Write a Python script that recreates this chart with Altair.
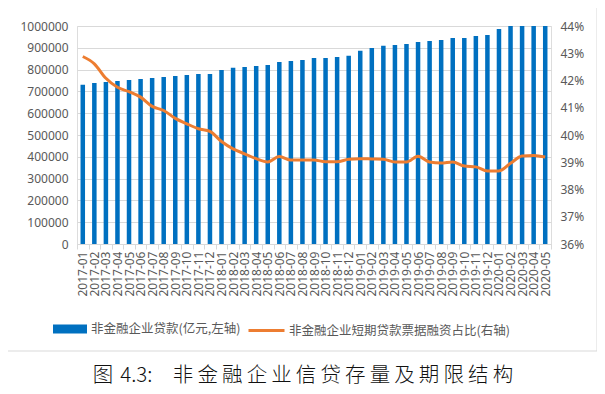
import altair as alt
import pandas as pd

months = [
    "2017-01", "2017-02", "2017-03", "2017-04", "2017-05", "2017-06", "2017-07", "2017-08",
    "2017-09", "2017-10", "2017-11", "2017-12", "2018-01", "2018-02", "2018-03", "2018-04",
    "2018-05", "2018-06", "2018-07", "2018-08", "2018-09", "2018-10", "2018-11", "2018-12",
    "2019-01", "2019-02", "2019-03", "2019-04", "2019-05", "2019-06", "2019-07", "2019-08",
    "2019-09", "2019-10", "2019-11", "2019-12", "2020-01", "2020-02", "2020-03", "2020-04",
    "2020-05",
]

loans = [
    730000, 739000, 743500, 748000, 752700, 757000, 762000, 766000,
    771000, 775600, 780000, 780000, 798000, 808000, 812000, 817000,
    821000, 835000, 840000, 844000, 853000, 853000, 858000, 863000,
    887000, 899500, 909000, 913000, 918000, 927000, 931500, 936000,
    945000, 945000, 954000, 959000, 986000, 1000000, 1000000, 1000000,
    1000000,
]

ratio_pct = [
    42.88, 42.61, 42.08, 41.75, 41.59, 41.39, 41.05, 40.90,
    40.61, 40.41, 40.23, 40.13, 39.76, 39.49, 39.31, 39.13,
    39.01, 39.21, 39.08, 39.08, 39.08, 39.02, 39.02, 39.11,
    39.13, 39.12, 39.11, 39.01, 39.01, 39.22, 39.01, 38.97,
    39.01, 38.86, 38.83, 38.68, 38.68, 38.96, 39.23, 39.25,
    39.19,
]

left_ticks = [0, 100000, 200000, 300000, 400000, 500000, 600000, 700000, 800000, 900000, 1000000]
right_ticks = [0.36, 0.37, 0.38, 0.39, 0.40, 0.41, 0.42, 0.43, 0.44]

LOAN_LABEL = "非金融企业贷款(亿元,左轴)"
RATIO_LABEL = "非金融企业短期贷款票据融资占比(右轴)"
TITLE = ("图\u20044.3:\u2003非\u2009金\u2009融\u2009企\u2009业\u2009信\u2009贷"
         "\u2009存\u2009量\u2009及\u2009期\u2009限\u2009结\u2009构")

df = pd.DataFrame({
    "month": months,
    "loan": loans,
    "ratio": [r / 100 for r in ratio_pct],
    "s1": LOAN_LABEL,
    "s2": RATIO_LABEL,
})

NUM_FONT = "Noto Sans"
CJK_FONT = "Noto Sans CJK SC"
GRAY = "#595959"
GRID = "#d9d9d9"
BLUE = "#0070C0"
ORANGE = "#ED7D31"

x_enc = alt.X(
    "month:N", sort=months, title=None,
    scale=alt.Scale(paddingInner=0, paddingOuter=0),
    axis=alt.Axis(
        labelAngle=-90, labelFont=NUM_FONT, labelFontSize=12, labelColor=GRAY,
        tickBand="extent", tickColor=GRID, tickSize=5, domainColor=GRID,
        labelPadding=2, grid=False,
    ),
)

frame = alt.Chart(alt.Data(values=[{}])).mark_rect(
    filled=False, stroke=GRID, strokeWidth=1
).encode(
    x=alt.value(-70), x2=alt.value(520), y=alt.value(-19), y2=alt.value(325)
)

bars = alt.Chart(df).mark_bar(width=alt.RelativeBandSize(0.39)).encode(
    x=x_enc,
    y=alt.Y(
        "loan:Q", title=None,
        scale=alt.Scale(domain=[0, 1000000], nice=False),
        axis=alt.Axis(
            values=left_ticks, format="d", labelFont=NUM_FONT, labelFontSize=12,
            labelColor=GRAY, domain=False, ticks=False, labelPadding=9,
            gridColor=GRID, gridWidth=1,
        ),
    ),
    color=alt.Color(
        "s1:N",
        scale=alt.Scale(domain=[LOAN_LABEL], range=[BLUE]),
        legend=alt.Legend(
            orient="none", legendX=-24, legendY=286, title=None, padding=0,
            symbolType="M-1,-0.265H1V0.265H-1Z", symbolSize=1156,
            symbolStrokeWidth=0, symbolOpacity=1, labelOffset=4, labelLimit=0,
            labelFont=CJK_FONT, labelFontSize=12.5, labelColor=GRAY,
        ),
    ),
)

line = alt.Chart(df).mark_line(strokeWidth=3, interpolate="monotone").encode(
    x=x_enc,
    y=alt.Y(
        "ratio:Q", title=None,
        scale=alt.Scale(domain=[0.36, 0.44], nice=False, zero=False),
        axis=alt.Axis(
            orient="right", values=right_ticks, format=".0%", labelFont=NUM_FONT,
            labelFontSize=12, labelColor=GRAY, domain=False, ticks=False,
            grid=False, labelPadding=9,
        ),
    ),
    stroke=alt.Stroke(
        "s2:N",
        scale=alt.Scale(domain=[RATIO_LABEL], range=[ORANGE]),
        legend=alt.Legend(
            orient="none", legendX=170, legendY=285, title=None, padding=0,
            symbolType="stroke", symbolSize=1296, symbolStrokeWidth=3,
            labelOffset=3, labelLimit=0, labelFont=CJK_FONT, labelFontSize=12.5,
            labelColor=GRAY,
        ),
    ),
)

chart = alt.layer(frame, bars, line).resolve_scale(
    y="independent"
).properties(
    width=474, height=218,
    autosize="none",
    padding={"left": 69, "top": 18, "right": 46, "bottom": 142},
    title=alt.TitleParams(
        text=TITLE, orient="bottom", anchor="middle", font=CJK_FONT,
        fontSize=20.5, fontWeight=300, color="#111111", offset=14, dx=-11,
    ),
).configure_view(stroke=None).configure(background="white")

chart.save("out.html", embed_options={"renderer": "svg", "actions": False})
